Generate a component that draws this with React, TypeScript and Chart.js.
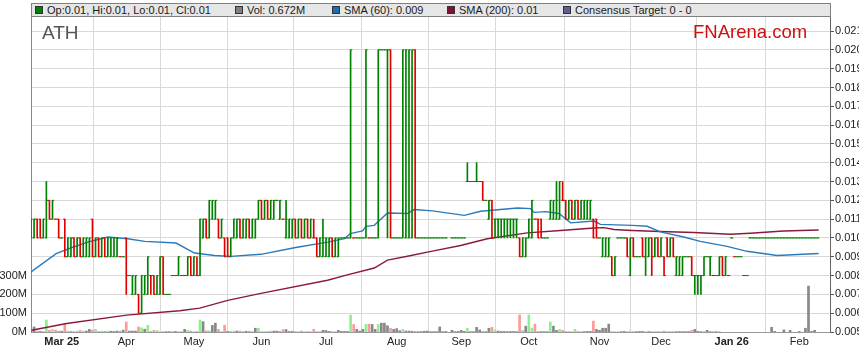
import React, { useEffect, useRef } from 'react';
import { Chart, registerables } from 'chart.js';

Chart.register(...registerables);

const FONT = '"Liberation Sans", Arial, Helvetica, sans-serif';

// x = trading-day (weekday) index, 0 = Mon 17 Feb 2025
const X_MIN = 0;
const X_MAX = 260;
const MONTH_TICKS = [10, 31, 53, 75, 96, 119, 140, 162, 185, 205, 228, 250];
const MONTH_LABELS = ['Mar 25', 'Apr', 'May', 'Jun', 'Jul', 'Aug', 'Sep', 'Oct', 'Nov', 'Dec', 'Jan 26', 'Feb'];

// prices in thousandths of a dollar (10 = $0.010); null = no trade
const OPEN = [
  10, 10, 11, 11, 10, 10, 12, 11, 11, 11,
  10, 11, 9, 9, 10, 9, 10, 9, 9, 9,
  11, 9, 10, 9, 10, 9, 9, 9, 9, 9,
  9, 10, 8, 7, 7, 7, 6, 7, 7, 8,
  8, 7, 7, 9, 7, 7, 8, 8, 8, 8,
  8, 8, 9, 8, 8, 8, 10, 11, 10, 11,
  11, 11, 10, 10, 10, 9, 10, 10, 11, 10,
  10, 11, 10, 10, 11, 12, 11, 12, 11, 11,
  12, 11, 11, 10, 10, 10, 11, 10, 11, 10,
  11, 10, 10, 10, 9, 9, 9, 9, 10, 9,
  9, 10, 10, 10, 10, 10, 10, 10, 10, 10,
  10, 10, 10, 10, 20, 20, 20, 20, 10, 10,
  10, 10, 10, 10, 10, 20, 10, 10, 10, 10,
  10, 10, 10, 10, 10, 10, null, 10, 10, 10,
  10, 10, 13, 13, 13, 13, 13, 13, 12, 11,
  12, 11, 11, 11, 11, 11, 11, 11, 11, 10,
  9, 9, 10, 10, 11, 11, 11, 10, 10, 11,
  11, 11, 11, 12, 12, 11, 12, 11, 12, 11,
  11, 11, 11, 11, 11, 10, 9, 9, 9, 9,
  8, 10, 10, 10, 10, 8, 10, 9, 9, 10,
  9, 9, 10, 9, 10, 9, 9, 10, 9, 10,
  8, 8, 8, 9, 9, 9, 8, 8, 8, 8,
  9, 9, 8, 8, 8, 9, 8, 8, 10, 9,
  9, 9, 8, 8, 10, 10, 10, 10, 10, 10,
  10, 10, 10, 10, 10, 10, 10, 10, 10, 10,
  10, 10, 10, 10, 10, 10, 10,
];
const HIGH = [
  11, 11, 11, 11, 11, 13, 12, 12, 11, 11,
  10, 11, 10, 10, 10, 10, 10, 10, 10, 10,
  11, 10, 10, 10, 10, 10, 10, 10, 10, 9,
  9, 10, 8, 8, 8, 7, 8, 8, 9, 8,
  8, 8, 9, 9, 7, 7, 8, 8, 9, 8,
  8, 9, 9, 9, 9, 11, 11, 11, 12, 12,
  12, 11, 11, 10, 10, 10, 11, 11, 11, 11,
  11, 11, 11, 11, 12, 12, 12, 12, 12, 12,
  12, 12, 11, 12, 11, 11, 11, 11, 11, 11,
  11, 11, 11, 10, 10, 11, 10, 10, 10, 10,
  10, 10, 10, 10, 20, 10, 10, 10, 10, 20,
  10, 10, 10, 20, 20, 20, 20, 20, 10, 10,
  10, 20, 20, 20, 20, 20, 10, 10, 10, 10,
  10, 10, 10, 10, 10, 10, null, 10, 10, 10,
  10, 10, 14, 13, 13, 14, 13, 13, 12, 12,
  12, 11, 11, 11, 11, 11, 11, 11, 11, 10,
  10, 10, 11, 12, 11, 11, 11, 10, 10, 12,
  12, 13, 13, 13, 12, 12, 12, 12, 12, 12,
  12, 12, 12, 11, 11, 10, 10, 10, 10, 9,
  9, 10, 10, 10, 10, 10, 10, 9, 9, 10,
  10, 10, 10, 10, 10, 10, 9, 10, 10, 10,
  9, 9, 9, 9, 9, 9, 8, 8, 8, 9,
  9, 9, 8, 8, 9, 9, 9, 8, 10, 9,
  9, 9, 8, 8, 10, 10, 10, 10, 10, 10,
  10, 10, 10, 10, 10, 10, 10, 10, 10, 10,
  10, 10, 10, 10, 10, 10, 10,
];
const LOW = [
  10, 10, 10, 10, 10, 10, 11, 11, 11, 10,
  10, 9, 9, 9, 9, 9, 9, 9, 9, 9,
  9, 9, 9, 9, 9, 9, 9, 9, 9, 9,
  9, 7, 8, 7, 7, 6, 6, 7, 7, 7,
  7, 7, 7, 7, 7, 7, 8, 8, 8, 8,
  8, 8, 8, 8, 8, 8, 10, 10, 10, 11,
  11, 10, 10, 9, 9, 9, 10, 10, 10, 10,
  10, 10, 10, 10, 11, 11, 11, 11, 11, 11,
  12, 11, 11, 10, 10, 10, 10, 10, 10, 10,
  10, 10, 10, 9, 9, 9, 9, 9, 9, 9,
  9, 10, 10, 10, 10, 10, 10, 10, 10, 10,
  10, 10, 10, 10, 20, 20, 10, 10, 10, 10,
  10, 10, 10, 10, 10, 10, 10, 10, 10, 10,
  10, 10, 10, 10, 10, 10, null, 10, 10, 10,
  10, 10, 13, 13, 13, 13, 13, 12, 12, 11,
  10, 10, 10, 10, 10, 10, 10, 10, 10, 9,
  9, 9, 10, 10, 11, 10, 10, 10, 10, 11,
  11, 11, 11, 12, 11, 11, 11, 11, 11, 11,
  11, 11, 11, 10, 10, 10, 9, 9, 9, 8,
  8, 10, 10, 10, 9, 8, 9, 9, 9, 9,
  8, 9, 8, 9, 9, 9, 8, 9, 9, 9,
  8, 8, 8, 9, 9, 8, 7, 7, 7, 8,
  9, 8, 8, 8, 8, 8, 8, 8, 10, 9,
  9, 9, 8, 8, 10, 10, 10, 10, 10, 10,
  10, 10, 10, 10, 10, 10, 10, 10, 10, 10,
  10, 10, 10, 10, 10, 10, 10,
];
const CLOSE = [
  11, 11, 10, 10, 11, 12, 11, 12, 11, 10,
  10, 9, 10, 10, 9, 10, 9, 10, 10, 10,
  9, 10, 9, 10, 9, 10, 10, 10, 10, 9,
  9, 8, 8, 8, 8, 6, 8, 8, 9, 8,
  7, 8, 9, 7, 7, 7, 8, 8, 9, 8,
  8, 9, 8, 9, 8, 11, 11, 10, 12, 12,
  12, 10, 11, 9, 9, 10, 11, 11, 10, 11,
  11, 10, 11, 11, 12, 11, 12, 11, 12, 12,
  12, 12, 11, 11, 11, 11, 10, 11, 10, 11,
  10, 11, 10, 9, 10, 10, 10, 10, 9, 10,
  10, 10, 10, 10, 20, 10, 10, 10, 10, 20,
  10, 10, 10, 20, 20, 20, 20, 10, 10, 10,
  10, 20, 20, 20, 20, 10, 10, 10, 10, 10,
  10, 10, 10, 10, 10, 10, null, 10, 10, 10,
  10, 10, 13, 13, 13, 13, 13, 12, 12, 12,
  10, 11, 11, 11, 11, 11, 11, 11, 11, 9,
  10, 10, 11, 12, 11, 10, 10, 10, 10, 12,
  12, 12, 13, 12, 11, 12, 11, 12, 11, 12,
  12, 12, 12, 10, 10, 10, 10, 10, 10, 8,
  9, 10, 10, 10, 9, 10, 9, 9, 9, 9,
  10, 10, 9, 10, 9, 10, 8, 9, 10, 9,
  9, 9, 9, 9, 9, 8, 8, 8, 8, 9,
  9, 9, 8, 8, 9, 8, 9, 8, 10, 9,
  9, 9, 8, 8, 10, 10, 10, 10, 10, 10,
  10, 10, 10, 10, 10, 10, 10, 10, 10, 10,
  10, 10, 10, 10, 10, 10, 10,
];
// daily volume, millions of shares
const VOLUME_M = [
  12, 27, 5, 3, 3, 64, 9, 14, 10, 5,
  4, 40, 5, 2, 2, 5, 8, 5, 5, 14,
  10, 14, 3, 5, 4, 5, 4, 3, 5, 5,
  10, 53, 5, 5, 5, 27, 22, 15, 35, 3,
  9, 8, 3, 2, 2, 2, 3, 3, 2, 2,
  14, 9, 5, 2, 3, 64, 55, 7, 7, 35,
  47, 14, 3, 36, 3, 5, 5, 5, 5, 3,
  4, 4, 3, 20, 20, 2, 2, 3, 5, 5,
  5, 2, 13, 13, 3, 3, 2, 2, 5, 2,
  3, 2, 14, 2, 3, 9, 8, 3, 2, 2,
  9, 3, 3, 3, 90, 40, 14, 5, 14, 40,
  42, 40, 14, 40, 47, 47, 33, 20, 14, 18,
  7, 14, 5, 5, 4, 4, 2, 2, 4, 5,
  2, 2, 2, 27, 2, 3, 0, 9, 2, 3,
  9, 3, 20, 2, 2, 25, 11, 3, 2, 20,
  25, 11, 5, 3, 3, 2, 3, 3, 2, 91,
  9, 31, 91, 20, 42, 3, 2, 2, 2, 53,
  31, 9, 14, 9, 3, 3, 2, 14, 3, 2,
  2, 3, 3, 58, 14, 9, 20, 20, 42, 2,
  2, 2, 2, 3, 2, 5, 2, 2, 3, 3,
  2, 2, 2, 3, 3, 2, 5, 3, 3, 2,
  2, 2, 2, 2, 2, 9, 14, 3, 2, 3,
  9, 2, 2, 2, 3, 0, 0, 0, 0, 0,
  0, 0, 0, 0, 0, 0, 0, 0, 0, 0,
  0, 25, 3, 0, 0, 11, 0, 9, 0, 0,
  3, 0, 20, 244, 3, 9, 0,
];

// moving averages: [day index], [price]
const SMA60_X = [0, 8.2, 13.1, 18.5, 25, 31.5, 37, 47.2, 53.2, 59.7, 65.1, 74.8, 85.7, 96.5, 102, 103.9, 107.9, 109, 111.7, 116, 122.5, 124.7, 130.6, 141, 146.3, 158.3, 162.6, 163.7, 167.5, 171.8, 175.6, 183.2, 185.3, 195.6, 200.5, 204.8, 212.4, 217.8, 226.5, 233, 242.8, 256.3];
const SMA60_Y = [0.0082, 0.00917, 0.00948, 0.00978, 0.01005, 0.00996, 0.00982, 0.00973, 0.0092, 0.00907, 0.00902, 0.00913, 0.00948, 0.00978, 0.00996, 0.01023, 0.01037, 0.01062, 0.01067, 0.01133, 0.0113, 0.01151, 0.01144, 0.0112, 0.01142, 0.01159, 0.01156, 0.01136, 0.0114, 0.0113, 0.0108, 0.0109, 0.01072, 0.01067, 0.01062, 0.01032, 0.01005, 0.00982, 0.00955, 0.00929, 0.00907, 0.00917];
const SMA200_X = [0.2, 11.6, 31.1, 48.4, 54.9, 64, 74.4, 96.5, 102.6, 111.7, 116, 122.5, 130.6, 139.8, 148.5, 161.5, 172.3, 183.2, 186.4, 189.7, 195.6, 204.7, 215.7, 227.5, 234, 244.9, 256.3];
const SMA200_Y = [0.00509, 0.00545, 0.0059, 0.00613, 0.00627, 0.00668, 0.00704, 0.00775, 0.00802, 0.0084, 0.00882, 0.00903, 0.0093, 0.0096, 0.00996, 0.01027, 0.0104, 0.01053, 0.01055, 0.01045, 0.0104, 0.01034, 0.01029, 0.0102, 0.01025, 0.01037, 0.01042];

const PRICE_MIN = 0.005;
const PRICE_MAX = 0.0218;
const PRICE_STEP = 0.001;
const VOL_MAX_M = 1680;
const VOL_STEP_M = 100;
const VOL_LABEL_MAX_M = 300;

const LEGEND = [
  { label: 'Op:0.01, Hi:0.01, Lo:0.01, Cl:0.01', color: '#008000', x: 35 },
  { label: 'Vol: 0.672M', color: '#808080', x: 235 },
  { label: 'SMA (60): 0.009', color: '#1f6fb0', x: 332 },
  { label: 'SMA (200): 0.01', color: '#7f1232', x: 447 },
  { label: 'Consensus Target: 0 - 0', color: '#5b5f96', x: 563 },
];

const UP = '#008000';
const DOWN = '#e00000';
const VOL_UP = '#90ee90';
const VOL_DOWN = '#ff9999';
const VOL_FLAT = '#888888';
const SMA60_COLOR = '#2b7bbb';
const SMA200_COLOR = '#8a1a3c';

const toPrice = (v: number) => v / 1000;

function prevClose(i: number): number | null {
  for (let j = i - 1; j >= 0; j--) if (CLOSE[j] != null) return CLOSE[j] as number;
  return null;
}
function barColor(i: number): string {
  const o = OPEN[i] as number, c = CLOSE[i] as number;
  if (c > o) return UP;
  if (c < o) return DOWN;
  const p = prevClose(i);
  return p != null && c < p ? DOWN : UP;
}
function volColor(i: number): string {
  const p = prevClose(i);
  const c = CLOSE[i];
  if (p == null || c == null) return VOL_FLAT;
  return c > p ? VOL_UP : c < p ? VOL_DOWN : VOL_FLAT;
}

export default function App() {
  const ref = useRef<HTMLCanvasElement>(null);

  useEffect(() => {
    const canvas = ref.current;
    if (!canvas) return;
    Chart.defaults.font.family = FONT;
    Chart.defaults.font.size = 11;
    Chart.defaults.color = '#222';

    const tradeDays = OPEN.map((o, i) => (o == null ? -1 : i)).filter((i) => i >= 0);
    const tickRadius = (c: any) => {
      const s = c.chart.scales.x;
      if (!s) return 0.8;
      return (s.getPixelForValue(1) - s.getPixelForValue(0)) / 4 + 0.15;
    };
    const tickColor = (c: any) => (c.raw && c.raw.d != null ? barColor(c.raw.d) : UP);

    const chart = new Chart(canvas, {
      type: 'bar',
      data: {
        datasets: [
          {
            type: 'line',
            label: 'open',
            data: tradeDays.map((i) => ({ x: i - 0.25, y: toPrice(OPEN[i] as number), d: i })),
            showLine: false,
            pointStyle: 'line',
            pointRadius: tickRadius,
            pointHoverRadius: tickRadius,
            pointBorderWidth: 1,
            pointBorderColor: tickColor,
            pointBackgroundColor: tickColor,
            yAxisID: 'y',
            order: 0,
          } as any,
          {
            type: 'line',
            label: 'close',
            data: tradeDays.map((i) => ({ x: i + 0.25, y: toPrice(CLOSE[i] as number), d: i })),
            showLine: false,
            pointStyle: 'line',
            pointRadius: tickRadius,
            pointHoverRadius: tickRadius,
            pointBorderWidth: 1,
            pointBorderColor: tickColor,
            pointBackgroundColor: tickColor,
            yAxisID: 'y',
            order: 0,
          } as any,
          {
            type: 'bar',
            label: 'range',
            data: tradeDays.map((i) => ({ x: i, y: [toPrice(LOW[i] as number), toPrice(HIGH[i] as number)], d: i })),
            backgroundColor: (c: any) => (c.raw && c.raw.d != null ? barColor(c.raw.d) : UP),
            barThickness: 1,
            grouped: false,
            yAxisID: 'y',
            order: 1,
          } as any,
          {
            type: 'line',
            label: 'SMA (60)',
            data: SMA60_X.map((x, k) => ({ x, y: SMA60_Y[k] })),
            borderColor: SMA60_COLOR,
            borderWidth: 1.4,
            pointRadius: 0,
            tension: 0,
            yAxisID: 'y',
            order: 2,
          } as any,
          {
            type: 'line',
            label: 'SMA (200)',
            data: SMA200_X.map((x, k) => ({ x, y: SMA200_Y[k] })),
            borderColor: SMA200_COLOR,
            borderWidth: 1.4,
            pointRadius: 0,
            tension: 0,
            yAxisID: 'y',
            order: 2,
          } as any,
          {
            type: 'bar',
            label: 'Vol',
            data: tradeDays.filter((i) => VOLUME_M[i] > 0).map((i) => ({ x: i, y: VOLUME_M[i], d: i })),
            backgroundColor: (c: any) => (c.raw && c.raw.d != null ? volColor(c.raw.d) : VOL_FLAT),
            barThickness: 2,
            grouped: false,
            yAxisID: 'yVol',
            order: 3,
          } as any,
        ],
      },
      options: {
        animation: false,
        responsive: false,
        maintainAspectRatio: false,
        events: [],
        layout: { padding: { top: 16, left: 0, right: 0, bottom: 0 } },
        plugins: { legend: { display: false }, tooltip: { enabled: false } },
        scales: {
          x: {
            type: 'linear',
            min: X_MIN,
            max: X_MAX,
            offset: false,
            afterBuildTicks: (s: any) => {
              s.ticks = MONTH_TICKS.map((v) => ({ value: v }));
            },
            afterFit: (s: any) => {
              s.height = 31;
            },
            ticks: {
              autoSkip: false,
              maxRotation: 0,
              padding: 3,
              color: '#222',
              callback: (_v: any, idx: number) => MONTH_LABELS[idx],
              font: (c: any) => ({
                family: FONT,
                size: 11,
                weight: /\d/.test(MONTH_LABELS[c.index] || '') ? 'bold' : 'normal',
              }),
            },
            grid: { color: '#d9d9d9', drawTicks: false },
            border: { color: '#999' },
          } as any,
          y: {
            type: 'linear',
            position: 'right',
            min: PRICE_MIN,
            max: PRICE_MAX,
            afterFit: (s: any) => {
              s.width = 29;
            },
            ticks: {
              stepSize: PRICE_STEP,
              includeBounds: false,
              maxTicksLimit: 100,
              padding: 1,
              color: '#222',
              callback: (v: any) => Number(v).toFixed(3),
            },
            grid: { color: '#d9d9d9', tickLength: 4, tickColor: '#555' },
            border: { color: '#666' },
          } as any,
          yVol: {
            type: 'linear',
            position: 'left',
            min: 0,
            max: VOL_MAX_M,
            afterFit: (s: any) => {
              s.width = 31;
            },
            ticks: {
              stepSize: VOL_STEP_M,
              includeBounds: false,
              maxTicksLimit: 100,
              autoSkip: false,
              padding: 4,
              color: '#222',
              callback: (v: any) => (Number(v) <= VOL_LABEL_MAX_M ? `${v}M` : ''),
            },
            grid: { display: false, drawTicks: false },
            border: { color: '#888' },
          } as any,
        },
      },
    } as any);
    return () => chart.destroy();
  }, []);

  return (
    <div
      style={{
        position: 'absolute',
        left: 0,
        top: 0,
        width: 859,
        height: 363,
        background: '#fff',
        overflow: 'hidden',
        fontFamily: FONT,
      }}
    >
      <canvas ref={ref} width={859} height={363} style={{ position: 'absolute', left: 0, top: 0, width: 859, height: 363 }} />
      <div
        style={{
          position: 'absolute',
          left: 31,
          top: 3,
          width: 800,
          height: 14,
          boxSizing: 'border-box',
          background: '#e6e6e6',
          border: '1px solid #808080',
        }}
      />
      {LEGEND.map((item) => (
        <React.Fragment key={item.label}>
          <div
            style={{
              position: 'absolute',
              left: item.x,
              top: 6,
              width: 8,
              height: 8,
              boxSizing: 'border-box',
              background: item.color,
              border: '1px solid #333',
            }}
          />
          <div
            style={{
              position: 'absolute',
              left: item.x + 12,
              top: 4.7,
              fontSize: 11,
              lineHeight: '11px',
              color: '#1a1a1a',
              whiteSpace: 'nowrap',
            }}
          >
            {item.label}
          </div>
        </React.Fragment>
      ))}
      <div style={{ position: 'absolute', left: 42, top: 23, fontSize: 19, lineHeight: '19px', color: '#555' }}>ATH</div>
      <div style={{ position: 'absolute', left: 693, top: 22.6, fontSize: 18.5, lineHeight: '18.5px', color: '#cc1111' }}>
        FNArena.com
      </div>
    </div>
  );
}
